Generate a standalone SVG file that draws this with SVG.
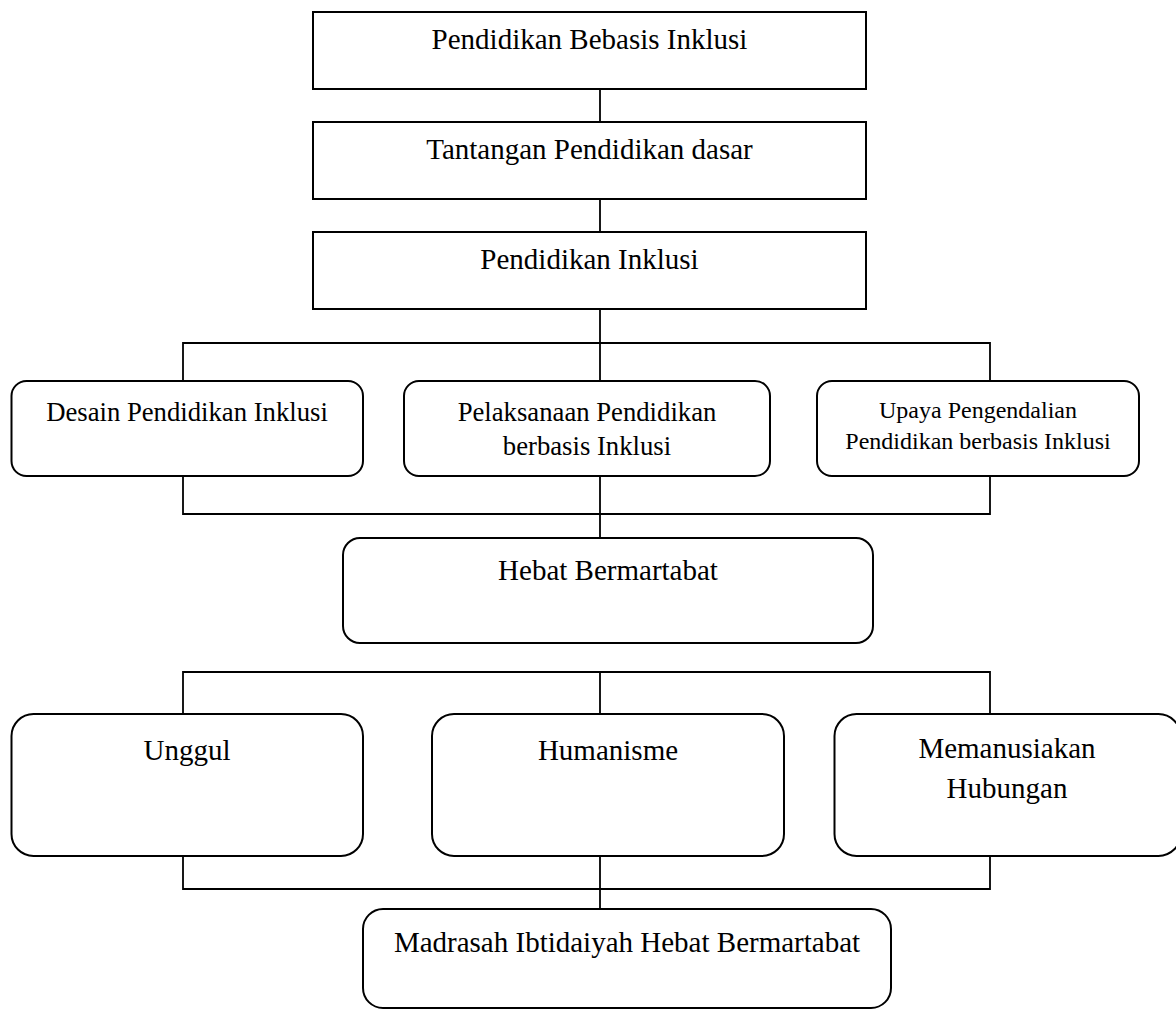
<svg xmlns="http://www.w3.org/2000/svg" width="1176" height="1010" viewBox="0 0 1176 1010">
<style>
.box{fill:#fff;stroke:#000;stroke-width:2}
.ln{fill:none;stroke:#000;stroke-width:1.8}
text{font-family:"Liberation Serif","Times New Roman",serif;fill:#000;text-anchor:middle}
.t29{font-size:29px}
.t27{font-size:26.7px}
.t24{font-size:24px}
</style>
<rect width="1176" height="1010" fill="#fff"/>
<g id="connectors">
<path class="ln" d="M600 89V122M600 199V232M600 309V381"/>
<path class="ln" d="M183 381V343H990V381"/>
<path class="ln" d="M183 476V514H990V476M600 476V538"/>
<path class="ln" d="M183 714V672H990V714M600 672V714"/>
<path class="ln" d="M183 856V889H990V856M600 856V909"/>
</g>
<g id="n1"><rect class="box" x="313" y="12" width="553" height="77"/><text class="t29" x="589.5" y="49">Pendidikan Bebasis Inklusi</text></g>
<g id="n2"><rect class="box" x="313" y="122" width="553" height="77"/><text class="t29" x="589.5" y="159">Tantangan Pendidikan dasar</text></g>
<g id="n3"><rect class="box" x="313" y="232" width="553" height="77"/><text class="t29" x="589.5" y="269">Pendidikan Inklusi</text></g>
<g id="n4"><rect class="box" x="11.5" y="381" width="351.5" height="95" rx="15"/><text class="t27" x="187" y="421">Desain Pendidikan Inklusi</text></g>
<g id="n5"><rect class="box" x="404" y="381" width="366" height="95" rx="15"/><text class="t27" x="587" y="421">Pelaksanaan Pendidikan</text><text class="t27" x="587" y="455">berbasis Inklusi</text></g>
<g id="n6"><rect class="box" x="817" y="381" width="322" height="95" rx="15"/><text class="t24" x="978" y="418">Upaya Pengendalian</text><text class="t24" x="978" y="449">Pendidikan berbasis Inklusi</text></g>
<g id="n7"><rect class="box" x="343" y="538" width="530" height="105" rx="17"/><text class="t29" x="608" y="580">Hebat Bermartabat</text></g>
<g id="n8"><rect class="box" x="11.5" y="714" width="351.5" height="142" rx="22"/><text class="t29" x="187" y="760">Unggul</text></g>
<g id="n9"><rect class="box" x="432" y="714" width="352" height="142" rx="22"/><text class="t29" x="608" y="760">Humanisme</text></g>
<g id="n10"><rect class="box" x="834.5" y="714" width="346" height="142" rx="22"/><text class="t29" x="1007" y="758">Memanusiakan</text><text class="t29" x="1007" y="798">Hubungan</text></g>
<g id="n11"><rect class="box" x="363" y="909" width="528" height="99" rx="20"/><text class="t29" x="627" y="952">Madrasah Ibtidaiyah Hebat Bermartabat</text></g>
</svg>
